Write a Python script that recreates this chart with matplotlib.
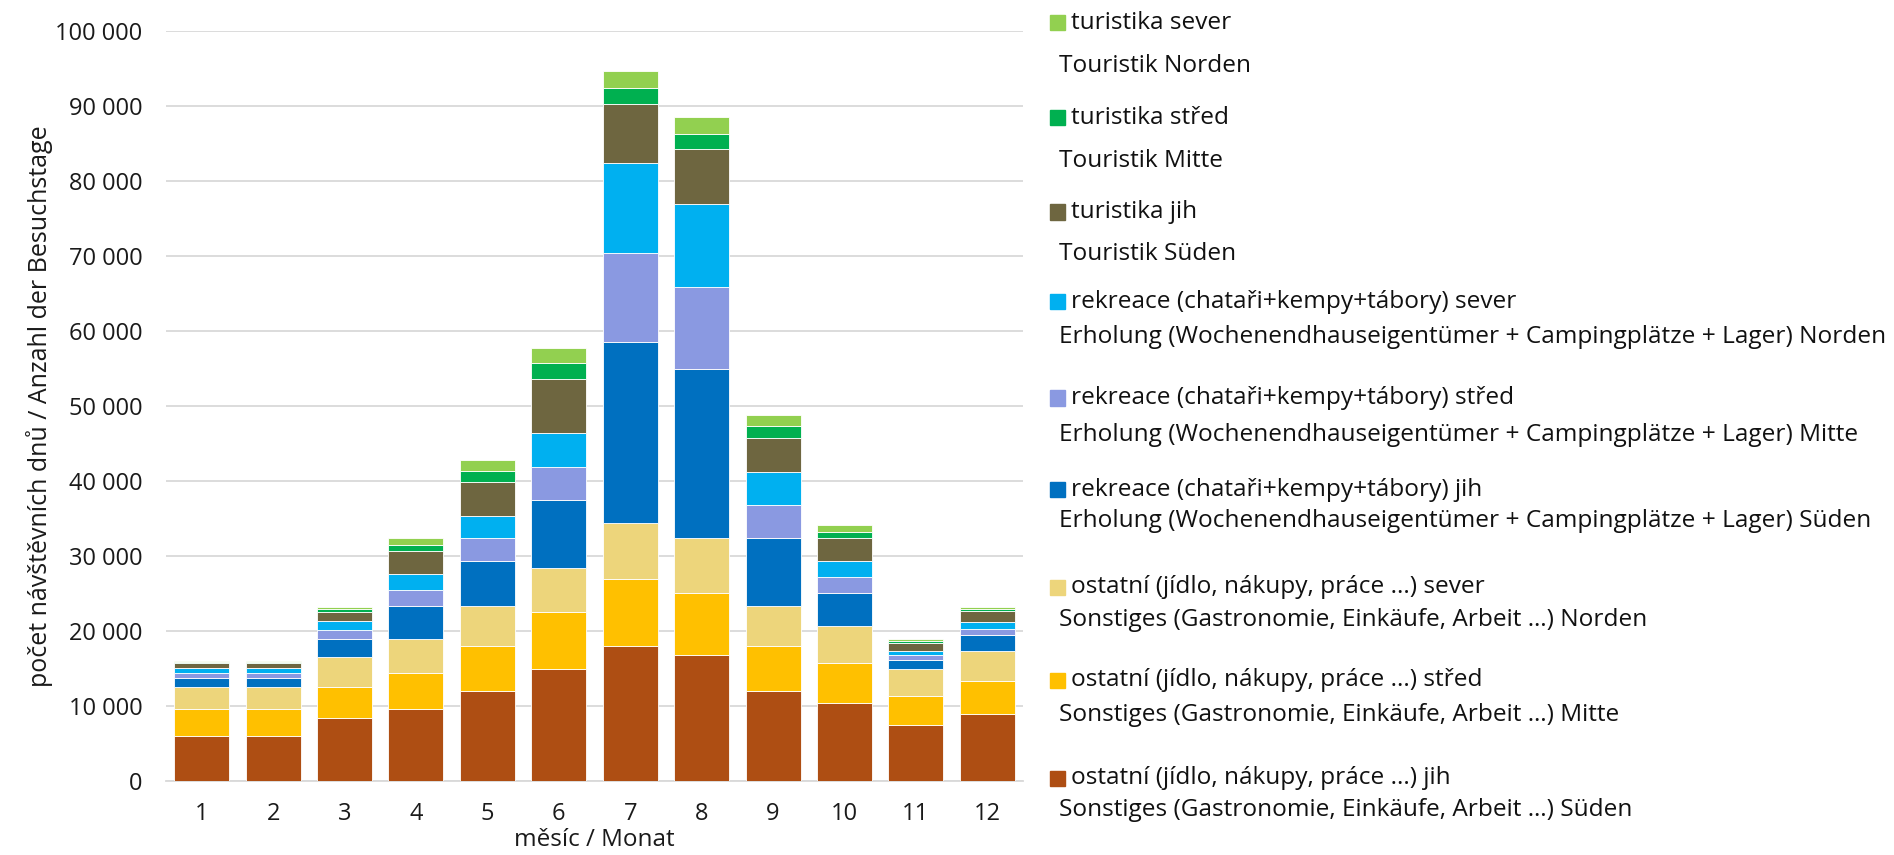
import matplotlib
matplotlib.use("Agg")
import matplotlib.pyplot as plt
from matplotlib.patches import Rectangle
from matplotlib.ticker import FuncFormatter
import numpy as np

plt.rcParams['font.family'] = ['Open Sans', 'DejaVu Sans']

# data (bottom -> top of each stack)
mesice = np.arange(1, 13)
ostatni_jih = [5960, 5960, 8460, 9660, 11980, 14980, 17970, 16750, 11980, 10420, 7420, 8990]
ostatni_stred = [3690, 3690, 4140, 4720, 5960, 7490, 8990, 8370, 5990, 5310, 3950, 4360]
ostatni_sever = [2940, 2940, 3920, 4540, 5340, 5990, 7490, 7280, 5310, 4970, 3610, 3950]
rekreace_jih = [1200, 1200, 2400, 4450, 6110, 9050, 24030, 22530, 9120, 4420, 1160, 2180]
rekreace_stred = [580, 580, 1160, 2090, 2990, 4420, 11980, 10960, 4420, 2040, 610, 820]
rekreace_sever = [670, 670, 1200, 2140, 2950, 4420, 11910, 11100, 4420, 2180, 540, 950]
turistika_jih = [650, 650, 1290, 3030, 4490, 7280, 7900, 7220, 4490, 3060, 1090, 1430]
turistika_stred = [200, 200, 310, 800, 1460, 2040, 2180, 2110, 1630, 820, 270, 270]
turistika_sever = [150, 150, 270, 980, 1530, 2110, 2180, 2180, 1430, 950, 270, 270]

serie = [ostatni_jih, ostatni_stred, ostatni_sever,
         rekreace_jih, rekreace_stred, rekreace_sever,
         turistika_jih, turistika_stred, turistika_sever]
barvy = ['#AE4E13', '#FFC000', '#EDD57B',
         '#0070C0', '#8A99E1', '#00B0F0',
         '#6E6640', '#00B050', '#92D050']
popisky_cz = ['ostatní (jídlo, nákupy, práce ...) jih',
              'ostatní (jídlo, nákupy, práce ...) střed',
              'ostatní (jídlo, nákupy, práce ...) sever',
              'rekreace (chataři+kempy+tábory) jih',
              'rekreace (chataři+kempy+tábory) střed',
              'rekreace (chataři+kempy+tábory) sever',
              'turistika jih', 'turistika střed', 'turistika sever']
popisky_de = ['Sonstiges (Gastronomie, Einkäufe, Arbeit …) Süden',
              'Sonstiges (Gastronomie, Einkäufe, Arbeit …) Mitte',
              'Sonstiges (Gastronomie, Einkäufe, Arbeit …) Norden',
              'Erholung (Wochenendhauseigentümer + Campingplätze + Lager) Süden',
              'Erholung (Wochenendhauseigentümer + Campingplätze + Lager) Mitte',
              'Erholung (Wochenendhauseigentümer + Campingplätze + Lager) Norden',
              'Touristik Süden', 'Touristik Mitte', 'Touristik Norden']

W, H = 1894, 855
fig = plt.figure(figsize=(W / 100, H / 100), dpi=100)
ax = fig.add_axes([166 / W, 1 - 781 / H, (1023 - 166) / W, (781 - 31) / H])

spodek = np.zeros(12)
for hodnoty, barva in zip(serie, barvy):
    ax.bar(mesice, hodnoty, bottom=spodek, width=0.77, color=barva,
           edgecolor='white', linewidth=0.6, zorder=3)
    spodek += np.array(hodnoty)

ax.set_xlim(0.5, 12.5)
ax.set_ylim(0, 100000)
ax.set_yticks(np.arange(0, 100001, 10000))
ax.set_xticks(mesice)
ax.yaxis.set_major_formatter(FuncFormatter(lambda v, p: f"{int(v):,}".replace(",", " ")))
ax.grid(axis='y', color='#D9D9D9', linewidth=1.3, zorder=0)
for s in ['top', 'right', 'left']:
    ax.spines[s].set_visible(False)
ax.spines['bottom'].set_color('#D9D9D9')
ax.spines['bottom'].set_linewidth(1.3)
ax.tick_params(axis='both', length=0, labelsize=17, colors='#1a1a1a')
ax.tick_params(axis='y', pad=17)
ax.tick_params(axis='x', pad=15)
ax.set_xlabel('měsíc / Monat', fontsize=17.5, color='#1a1a1a')
ax.set_ylabel('počet návštěvních dnů / Anzahl der Besuchstage', fontsize=18,
              color='#1a1a1a')
ax.xaxis.set_label_coords(0.5, -0.063)
ax.yaxis.set_label_coords(-0.132, 0.5)

# legenda: ctverec + cesky popisek, pod nim nemecky
y_cz = [778, 680, 587, 490, 398, 302, 212, 118, 23]
y_de = [810, 715, 620, 521, 435, 337, 254, 161, 66]
for i in range(len(serie)):
    fig.add_artist(Rectangle((1050 / W, 1 - (y_cz[i] + 7.5) / H), 15 / W, 15 / H,
                             transform=fig.transFigure, color=barvy[i]))
    fig.text(1071 / W, 1 - y_cz[i] / H, popisky_cz[i], fontsize=17.6,
             va='center', ha='left', color='#111111')
    fig.text(1059 / W, 1 - y_de[i] / H, popisky_de[i], fontsize=17.6,
             va='center', ha='left', color='#111111')

fig.savefig('out.png', dpi=100, facecolor='white')
